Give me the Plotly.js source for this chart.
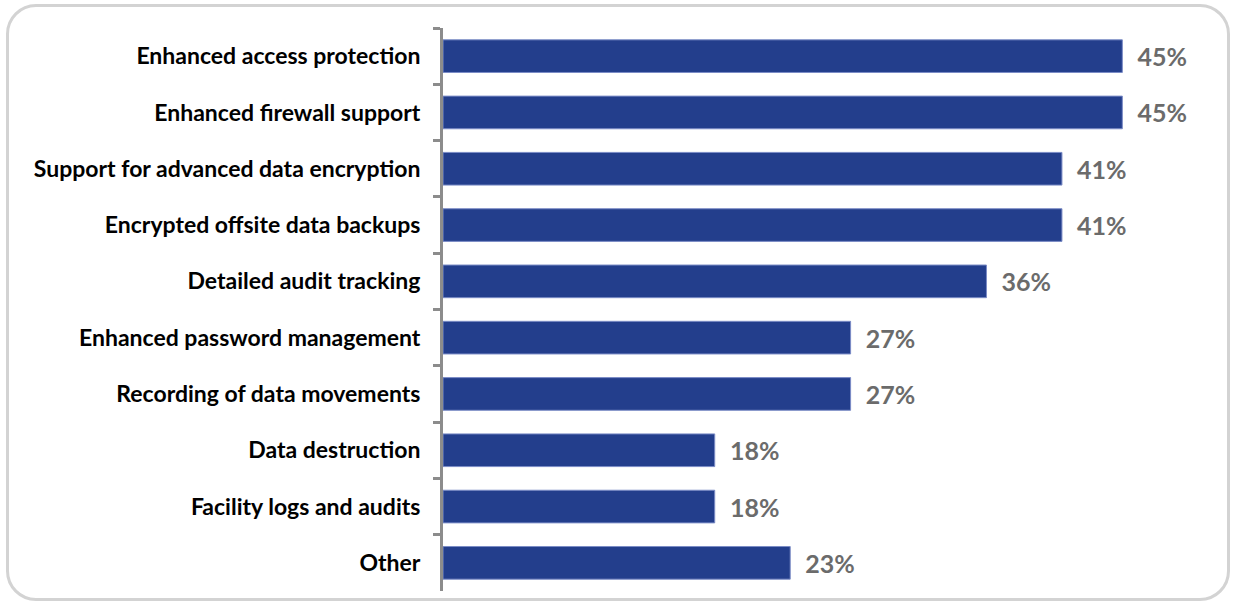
<!DOCTYPE html>
<html>
<head>
<meta charset="utf-8">
<script src="https://cdn.plot.ly/plotly-3.0.1.min.js"></script>
<style>
html,body{margin:0;padding:0;background:#fff;}
#frame{position:absolute;left:6px;top:4px;width:1224px;height:597px;border:3px solid #d3d3d3;border-radius:30px;box-sizing:border-box;}
#chart{position:absolute;left:0;top:0;width:1236px;height:607px;}
</style>
</head>
<body>
<div id="frame"></div>
<div id="chart"></div>
<script>
const categories = [
  "Enhanced access protection",
  "Enhanced firewall support",
  "Support for advanced data encryption",
  "Encrypted offsite data backups",
  "Detailed audit tracking",
  "Enhanced password management",
  "Recording of data movements",
  "Data destruction",
  "Facility logs and audits",
  "Other"
];
const values = [45, 45, 41, 41, 36, 27, 27, 18, 18, 23];
const valueLabels = values.map(v => v + "%");

const trace = {
  type: "bar",
  orientation: "h",
  y: categories,
  x: values,
  text: valueLabels,
  texttemplate: "  %{text}",
  textposition: "outside",
  cliponaxis: false,
  textfont: {family: "Lato, 'Open Sans', sans-serif", size: 25, color: "#6b6b6b", weight: "bold"},
  marker: {color: "#233e8c", line: {color: "#7b8cc6", width: 1}},
  width: 0.58,
  hoverinfo: "skip"
};

const layout = {
  width: 1236,
  height: 607,
  paper_bgcolor: "rgba(0,0,0,0)",
  plot_bgcolor: "rgba(0,0,0,0)",
  margin: {l: 443, r: 8, t: 28, b: 16},
  showlegend: false,
  bargap: 0.42,
  xaxis: {range: [0, 52], visible: false, fixedrange: true},
  yaxis: {
    autorange: "reversed",
    type: "category",
    showline: true,
    linecolor: "#8c8c8c",
    linewidth: 3,
    ticks: "outside",
    tickson: "boundaries",
    ticklen: 7,
    tickwidth: 3,
    tickcolor: "#8c8c8c",
    showgrid: false,
    ticklabelstandoff: 15,
    tickfont: {family: "Lato, 'Open Sans', sans-serif", size: 23, color: "#000000", weight: "bold"},
    fixedrange: true
  }
};

Plotly.newPlot("chart", [trace], layout, {displayModeBar: false, staticPlot: true});
</script>
</body>
</html>
